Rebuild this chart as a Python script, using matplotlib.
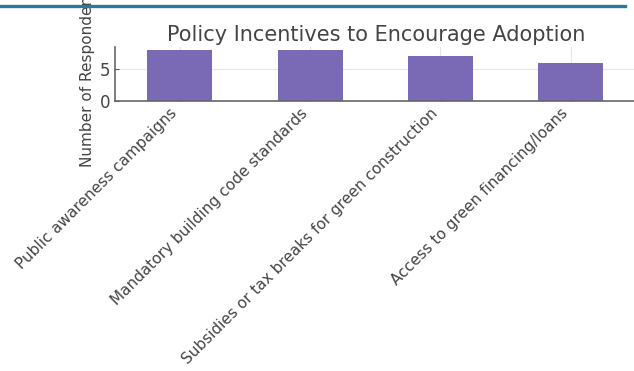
import matplotlib
matplotlib.use("Agg")
import matplotlib.pyplot as plt
from matplotlib.lines import Line2D

incentivos = [
    "Public awareness campaigns",
    "Mandatory building code standards",
    "Subsidies or tax breaks for green construction",
    "Access to green financing/loans",
]
respuestas = [8, 8, 7, 6]

COLOR_BARRA = "#7a69b4"
COLOR_TEXTO = "#444444"

fig = plt.figure(figsize=(6.34, 3.71), dpi=100)
# franja superior de la página
fig.add_artist(Line2D([0.0, 0.986], [0.984, 0.984], color="#2a7b98",
                      linewidth=2.4, transform=fig.transFigure))

ax = fig.add_axes([0.181, 0.729, 0.824, 0.143])
x = range(len(incentivos))
ax.bar(x, respuestas, width=0.5, color=COLOR_BARRA, zorder=2)

ax.set_xlim(-0.5, len(incentivos) - 0.5 + 0.01)
ax.set_ylim(0, max(respuestas) * 1.05)
ax.set_yticks([0, 5])
ax.set_xticks(list(x))
ax.set_xticklabels(incentivos, rotation=45, ha="right",
                   fontsize=11, color=COLOR_TEXTO)
ax.tick_params(axis="y", labelsize=12, labelcolor=COLOR_TEXTO, pad=3)
ax.tick_params(direction="in", length=3, color="#555555")

ax.grid(True, color="#e6e6e6", linewidth=0.8, zorder=0)
for lado in ["top", "right"]:
    ax.spines[lado].set_visible(False)
for lado in ["left", "bottom"]:
    ax.spines[lado].set_color("#666666")
    ax.spines[lado].set_linewidth(1.2)

ax.set_ylabel("Number of Respondents", fontsize=11, color=COLOR_TEXTO,
              labelpad=4)
ax.set_title("Policy Incentives to Encourage Adoption", fontsize=15,
             color=COLOR_TEXTO, pad=5)

fig.savefig("out.png", dpi=100, facecolor="white")
